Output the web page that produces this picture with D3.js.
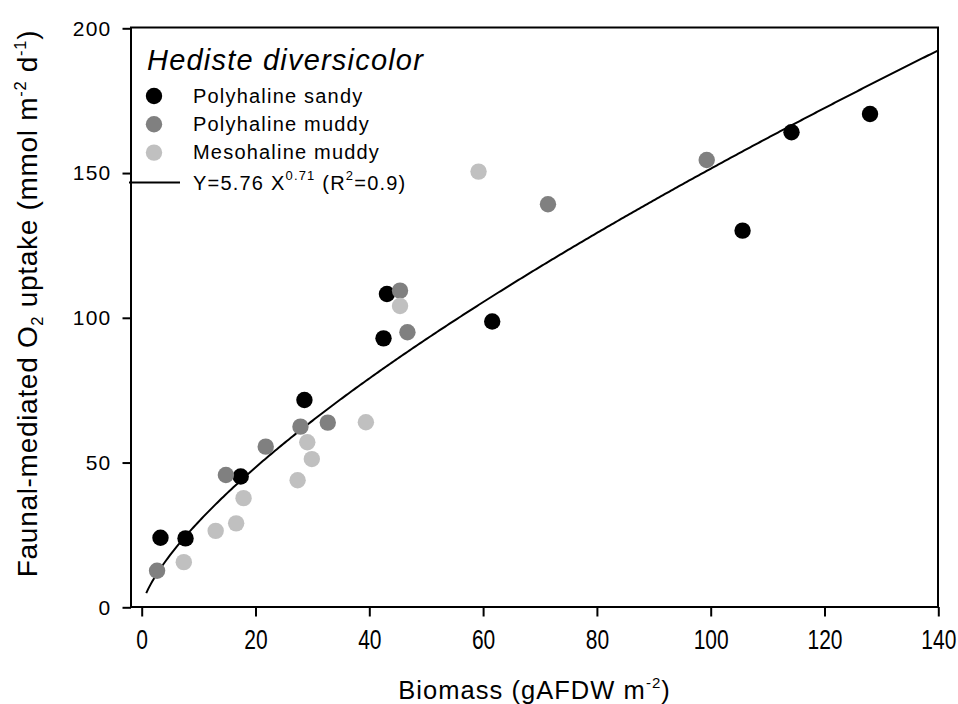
<!DOCTYPE html>
<html>
<head>
<meta charset="utf-8">
<script src="https://cdn.jsdelivr.net/npm/d3@7/dist/d3.min.js"></script>
<style>
  html, body { margin: 0; padding: 0; background: #fff; }
  svg text { font-family: Arial, "Liberation Sans", sans-serif; fill: #000; }
</style>
</head>
<body>
<svg id="chart" width="958" height="704"></svg>
<script>
// ---- Data ----
const seriesNames = ["Polyhaline sandy", "Polyhaline muddy", "Mesohaline muddy"];
const seriesColors = ["#000000", "#808080", "#c0c0c0"];

const sandyX = [3.3, 7.7, 17.4, 28.6, 42.5, 43.1, 61.6, 105.6, 114.2, 128.0];
const sandyY = [24.0, 23.8, 45.2, 71.6, 92.9, 108.2, 98.7, 130.1, 164.1, 170.4];

const polyMuddyX = [2.7, 14.8, 21.8, 27.9, 32.7, 45.4, 46.7, 71.4, 99.3];
const polyMuddyY = [12.6, 45.7, 55.5, 62.4, 63.8, 109.4, 95.0, 139.2, 154.5];

const mesoMuddyX = [7.4, 13.0, 16.6, 17.9, 27.4, 29.1, 29.9, 39.4, 45.4, 59.2];
const mesoMuddyY = [15.6, 26.4, 29.0, 37.7, 43.9, 57.0, 51.2, 63.9, 104.1, 150.5];

// Fitted curve Y = a * X^b (from the legend)
const fitA = 5.76;
const fitB = 0.71;
const fitRange = [0.8, 140];

const xTicks = [0, 20, 40, 60, 80, 100, 120, 140];
const yTicks = [0, 50, 100, 150, 200];

// ---- Layout ----
const svg = d3.select("#chart");
const frame = { left: 131, right: 938, top: 27.5, bottom: 607 };

const x = d3.scaleLinear().domain([0, 140]).range([141.7, 938.3]);
const y = d3.scaleLinear().domain([0, 200]).range([607.3, 28.3]);

// Frame (box)
svg.append("rect")
  .attr("x", frame.left).attr("y", frame.top)
  .attr("width", frame.right - frame.left)
  .attr("height", frame.bottom - frame.top)
  .attr("fill", "none").attr("stroke", "#000").attr("stroke-width", 2);

// Y axis
const yAxis = svg.append("g")
  .attr("transform", `translate(${frame.left},0)`)
  .call(d3.axisLeft(y).tickValues(yTicks).tickSize(8.5).tickPadding(11).tickFormat(d3.format("d")));
yAxis.select(".domain").remove();
yAxis.selectAll(".tick line").attr("stroke", "#000").attr("stroke-width", 2);
yAxis.selectAll(".tick text")
  .attr("font-size", 21).attr("letter-spacing", "1.2px")
  .attr("font-family", "Arial, 'Liberation Sans', sans-serif");

// X axis
const xAxis = svg.append("g")
  .attr("transform", `translate(0,${frame.bottom})`)
  .call(d3.axisBottom(x).tickValues(xTicks).tickSize(9.5).tickPadding(0).tickFormat(d3.format("d")));
xAxis.select(".domain").remove();
xAxis.selectAll(".tick line").attr("stroke", "#000").attr("stroke-width", 2);
xAxis.selectAll(".tick text")
  .attr("font-size", 21)
  .attr("font-family", "Arial, 'Liberation Sans', sans-serif")
  .attr("dy", null)
  .attr("y", 0)
  .attr("transform", "translate(0,41.5) scale(1,1.3)");

// Axis titles
const xt = svg.append("text")
  .attr("x", (frame.left + frame.right) / 2).attr("y", 699)
  .attr("text-anchor", "middle").attr("font-size", 25.5).attr("letter-spacing", "1.05px");
xt.append("tspan").text("Biomass (gAFDW m");
xt.append("tspan").attr("font-size", 15).attr("dy", -11).text("-2");
xt.append("tspan").attr("dy", 11).text(")");

const yt = svg.append("text")
  .attr("transform", `translate(37,303.5) rotate(-90)`)
  .attr("text-anchor", "middle").attr("font-size", 28).attr("letter-spacing", "0.7px");
yt.append("tspan").text("Faunal-mediated O");
yt.append("tspan").attr("font-size", 16.5).attr("dy", 6).text("2");
yt.append("tspan").attr("dy", -6).text(" uptake (mmol m");
yt.append("tspan").attr("font-size", 16.5).attr("dy", -11.5).text("-2");
yt.append("tspan").attr("dy", 11.5).text(" d");
yt.append("tspan").attr("font-size", 16.5).attr("dy", -11.5).text("-1");
yt.append("tspan").attr("dy", 11.5).text(")");

// Fit curve
const fitData = d3.range(0, 401).map(i => {
  const xv = fitRange[0] + (fitRange[1] - fitRange[0]) * i / 400;
  return [xv, fitA * Math.pow(xv, fitB)];
});
svg.append("path")
  .datum(fitData)
  .attr("fill", "none").attr("stroke", "#000").attr("stroke-width", 2)
  .attr("d", d3.line().x(d => x(d[0])).y(d => y(d[1])));

// Points
const allSeries = [
  { xs: sandyX, ys: sandyY },
  { xs: polyMuddyX, ys: polyMuddyY },
  { xs: mesoMuddyX, ys: mesoMuddyY }
];
allSeries.forEach((s, si) => {
  svg.append("g").selectAll("circle")
    .data(s.xs.map((xv, i) => [xv, s.ys[i]]))
    .join("circle")
    .attr("cx", d => x(d[0])).attr("cy", d => y(d[1]))
    .attr("r", 8.2).attr("fill", seriesColors[si]);
});

// Legend
const lg = svg.append("g");
lg.append("text").attr("x", 147).attr("y", 70)
  .attr("font-size", 29).attr("font-style", "italic").attr("letter-spacing", "1.2px")
  .text("Hediste diversicolor");
seriesNames.forEach((name, i) => {
  const cy = 96 + i * 28.3;
  lg.append("circle").attr("cx", 154).attr("cy", cy).attr("r", 8.2).attr("fill", seriesColors[i]);
  lg.append("text").attr("x", 193).attr("y", cy + 6.8)
    .attr("font-size", 20).attr("letter-spacing", "1.2px").text(name);
});
lg.append("line").attr("x1", 129).attr("x2", 180).attr("y1", 182.5).attr("y2", 182.5)
  .attr("stroke", "#000").attr("stroke-width", 2);
const ft = lg.append("text").attr("x", 193).attr("y", 189.5)
  .attr("font-size", 20).attr("letter-spacing", "1.2px");
ft.append("tspan").text("Y=5.76 X");
ft.append("tspan").attr("font-size", 13).attr("dy", -10).text("0.71");
ft.append("tspan").attr("dy", 10).text(" (R");
ft.append("tspan").attr("font-size", 13).attr("dy", -10).text("2");
ft.append("tspan").attr("dy", 10).text("=0.9)");
</script>
</body>
</html>
